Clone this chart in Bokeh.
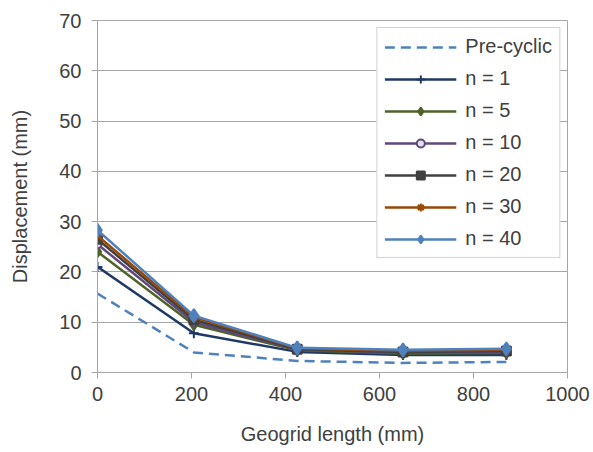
from bokeh.plotting import figure
from bokeh.models import Range1d, FixedTicker, Legend, LegendItem
from bokeh.embed import file_html
from bokeh.resources import INLINE

length_mm = [0, 205, 425, 650, 870]
pre_cyclic = [15.7, 4.0, 2.3, 1.9, 2.1]
n1 = [21.0, 7.8, 4.1, 3.5, 3.5]
n5 = [24.0, 9.5, 4.4, 3.8, 3.9]
n10 = [25.5, 10.0, 4.5, 4.0, 4.1]
n20 = [26.5, 10.5, 4.6, 4.1, 4.3]
n30 = [27.2, 11.0, 4.8, 4.3, 4.5]
n40 = [28.3, 11.3, 4.9, 4.5, 4.7]

x_ticks = [0, 200, 400, 600, 800, 1000]
y_ticks = [0, 10, 20, 30, 40, 50, 60, 70]

FONT = "Liberation Sans"
GRID = "#A6A6A6"
TXT = "#404040"

p = figure(width=593, height=452, output_backend="svg", toolbar_location=None,
           x_range=Range1d(0, 1000), y_range=Range1d(0, 70),
           min_border_left=97, min_border_right=26, min_border_top=20, min_border_bottom=80)
p.background_fill_color = "white"
p.border_fill_color = "white"
p.outline_line_color = GRID
p.outline_line_width = 1

p.xgrid.grid_line_color = None
p.ygrid.grid_line_color = GRID
p.ygrid.grid_line_width = 1

for ax in (p.xaxis[0], p.yaxis[0]):
    ax.axis_line_color = GRID
    ax.major_tick_line_color = GRID
    ax.minor_tick_line_color = None
    ax.major_tick_in = 0
    ax.major_tick_out = 6
    ax.major_label_text_font = FONT
    ax.major_label_text_font_size = "20px"
    ax.major_label_text_color = TXT
    ax.axis_label_text_font = FONT
    ax.axis_label_text_font_size = "20px"
    ax.axis_label_text_font_style = "normal"
    ax.axis_label_text_color = TXT

p.xaxis.ticker = FixedTicker(ticks=x_ticks)
p.yaxis.ticker = FixedTicker(ticks=y_ticks)
p.xaxis.axis_label = "Geogrid length (mm)"
p.yaxis.axis_label = "Displacement (mm)"
p.xaxis.major_label_standoff = 8
p.yaxis.major_label_standoff = 10
p.xaxis.axis_label_standoff = 19
p.yaxis.axis_label_standoff = 25

items = []
r = p.line(length_mm, pre_cyclic, line_color="#4F81BD", line_width=2.5, line_dash="10 6")
items.append(LegendItem(label="Pre-cyclic", renderers=[r]))

series = [
    ("n = 1", n1, "#1F3864", "cross", "#1F3864", 10),
    ("n = 5", n5, "#4F6228", "diamond", "#4F6228", 11),
    ("n = 10", n10, "#5F497A", "circle", "#E6E0EC", 8),
    ("n = 20", n20, "#404040", "square", "#404040", 9),
    ("n = 30", n30, "#984807", "asterisk", "#984807", 9),
    ("n = 40", n40, "#4F81BD", "diamond", "#4F81BD", 13),
]
for label, ys, col, mk, fill, sz in series:
    rl = p.line(length_mm, ys, line_color=col, line_width=2.5)
    rs = p.scatter(length_mm, ys, marker=mk, size=sz, line_color=col, fill_color=fill, line_width=2)
    items.append(LegendItem(label=label, renderers=[rl, rs]))

legend = Legend(items=items, location="top_right")
legend.label_text_font = FONT
legend.label_text_font_size = "20px"
legend.label_text_color = TXT
legend.glyph_width = 72
legend.glyph_height = 20
legend.label_height = 20
legend.label_standoff = 9
legend.spacing = 9
legend.padding = 7
legend.margin = 7
legend.border_line_color = GRID
legend.border_line_width = 1
legend.background_fill_color = "white"
legend.background_fill_alpha = 1.0
p.add_layout(legend, "center")

open("out.html", "w").write(file_html(p, INLINE))
